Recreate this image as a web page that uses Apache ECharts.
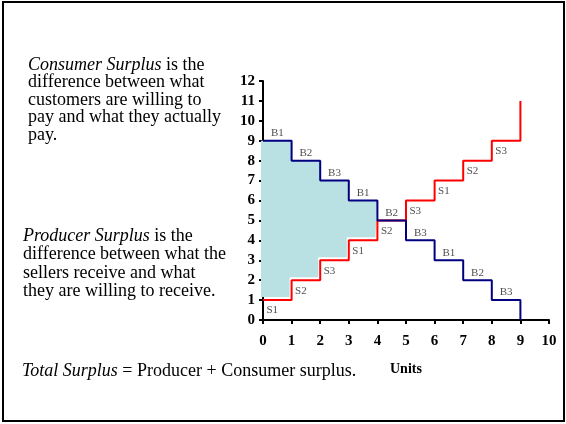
<!DOCTYPE html>
<html>
<head>
<meta charset="utf-8">
<script src="https://cdn.jsdelivr.net/npm/echarts@6/dist/echarts.min.js"></script>
<style>
  html, body { margin: 0; padding: 0; background: #fff; }
  #chart { width: 566px; height: 424px; }
</style>
</head>
<body>
<div id="chart"></div>
<script>
// units on the x axis (start of each step)
const units = [0, 1, 2, 3, 4, 5, 6, 7, 8, 9]
// buyer willingness to pay (demand), seller cost (supply)
const demand = [9, 8, 7, 6, 5, 4, 3, 2, 1, 0]
const supply = [1, 2, 3, 4, 5, 6, 7, 8, 9, 11]
const buyerLabels = ['B1', 'B2', 'B3', 'B1', 'B2', 'B3', 'B1', 'B2', 'B3']
const sellerLabels = ['S1', 'S2', 'S3', 'S1', 'S2', 'S3', 'S1', 'S2', 'S3']
// units traded (surplus area)
const tradedUnits = 4
const xTicks = [0, 10]
const yTicks = [0, 12]

const serif = '"Liberation Serif", "DejaVu Serif", serif'

const chart = echarts.init(document.getElementById('chart'))

// polygon of the surplus area: along demand, back along supply
// second flag marks the supply side (drawn with a small white gap)
function surplusPolygon () {
  const pts = []
  for (let i = 0; i < tradedUnits; i++) {
    pts.push([units[i], demand[i], 0], [units[i + 1], demand[i], 0])
  }
  for (let i = tradedUnits - 1; i >= 0; i--) {
    pts.push([units[i + 1], supply[i], 1], [units[i], supply[i], 1])
  }
  return pts
}

const option = {
  animation: false,
  backgroundColor: '#fff',
  grid: {
    left: 263,
    right: 17,
    top: 81,
    bottom: 104
  },
  xAxis: {
    type: 'value',
    min: xTicks[0],
    max: xTicks[1],
    interval: 1,
    splitLine: { show: false },
    axisLine: { lineStyle: { color: '#000', width: 2 } },
    axisTick: { length: 4, lineStyle: { color: '#000', width: 2 } },
    axisLabel: {
      margin: 14,
      color: '#000',
      fontFamily: serif,
      fontWeight: 'bold',
      fontSize: 15
    }
  },
  yAxis: {
    type: 'value',
    min: yTicks[0],
    max: yTicks[1],
    interval: 1,
    splitLine: { show: false },
    axisLine: { lineStyle: { color: '#000', width: 2 } },
    axisTick: { length: 4, lineStyle: { color: '#000', width: 2 } },
    axisLabel: {
      margin: 8,
      color: '#000',
      fontFamily: serif,
      fontWeight: 'bold',
      fontSize: 15
    }
  },
  series: [{
    type: 'custom',
    z: 1,
    silent: true,
    data: [0],
    renderItem: function (params, api) {
      const points = surplusPolygon().map(p => {
        const c = api.coord([p[0], p[1]])
        // cover the y axis on the left, leave a thin gap above the supply line
        if (p[0] === 0) c[0] -= 2
        if (p[2] === 1) {
          if (p[0] !== 0) c[0] -= 2
          c[1] -= 3
        }
        return c
      })
      return {
        type: 'polygon',
        shape: { points: points },
        style: { fill: '#B9E0E3' }
      }
    }
  }, {
    // supply (sellers)
    type: 'line',
    z: 3,
    step: 'end',
    symbol: 'none',
    lineStyle: { color: '#FF0000', width: 2 },
    data: units.map((u, i) => [u, supply[i]])
  }, {
    // demand (buyers)
    type: 'line',
    z: 4,
    step: 'end',
    symbol: 'none',
    lineStyle: { color: '#000080', width: 2 },
    data: units.map((u, i) => [u, demand[i]])
  }, {
    type: 'scatter',
    z: 5,
    symbolSize: 0,
    silent: true,
    label: {
      show: true,
      position: 'top',
      distance: 2,
      color: '#222',
      fontFamily: serif,
      fontSize: 11,
      formatter: p => buyerLabels[p.dataIndex]
    },
    data: buyerLabels.map((b, i) => [units[i] + 0.5, demand[i]])
  }, {
    type: 'scatter',
    z: 5,
    symbolSize: 0,
    silent: true,
    label: {
      show: true,
      position: 'bottom',
      distance: 5,
      offset: [-5, 0],
      color: '#222',
      fontFamily: serif,
      fontSize: 11,
      formatter: p => sellerLabels[p.dataIndex]
    },
    data: sellerLabels.map((s, i) => [units[i] + 0.5, supply[i]])
  }],
  graphic: [{
    type: 'rect',
    shape: { x: 3, y: 2, width: 561, height: 419 },
    style: { fill: 'none', stroke: '#000', lineWidth: 2 }
  }, {
    type: 'text',
    left: 28,
    top: 56,
    style: {
      text: '{i|Consumer Surplus} is the\ndifference between what\ncustomers are willing to\npay and what they actually\npay.',
      fontFamily: serif,
      fontSize: 18,
      lineHeight: 17.5,
      fill: '#000',
      rich: {
        i: { fontStyle: 'italic', fontFamily: serif, fontSize: 18, lineHeight: 17.5 }
      }
    }
  }, {
    type: 'text',
    left: 23,
    top: 227,
    style: {
      text: '{i|Producer Surplus} is the\ndifference between what the\nsellers receive and what\nthey are willing to receive.',
      fontFamily: serif,
      fontSize: 18,
      lineHeight: 18.5,
      fill: '#000',
      rich: {
        i: { fontStyle: 'italic', fontFamily: serif, fontSize: 18, lineHeight: 18.5 }
      }
    }
  }, {
    type: 'text',
    left: 22,
    top: 362,
    style: {
      text: '{i|Total Surplus} = Producer + Consumer surplus.',
      fontFamily: serif,
      fontSize: 18,
      fill: '#000',
      rich: {
        i: { fontStyle: 'italic', fontFamily: serif, fontSize: 18 }
      }
    }
  }, {
    type: 'text',
    left: 390,
    top: 362,
    style: {
      text: 'Units',
      fontFamily: serif,
      fontWeight: 'bold',
      fontSize: 14,
      fill: '#000'
    }
  }]
}

chart.setOption(option)
</script>
</body>
</html>
